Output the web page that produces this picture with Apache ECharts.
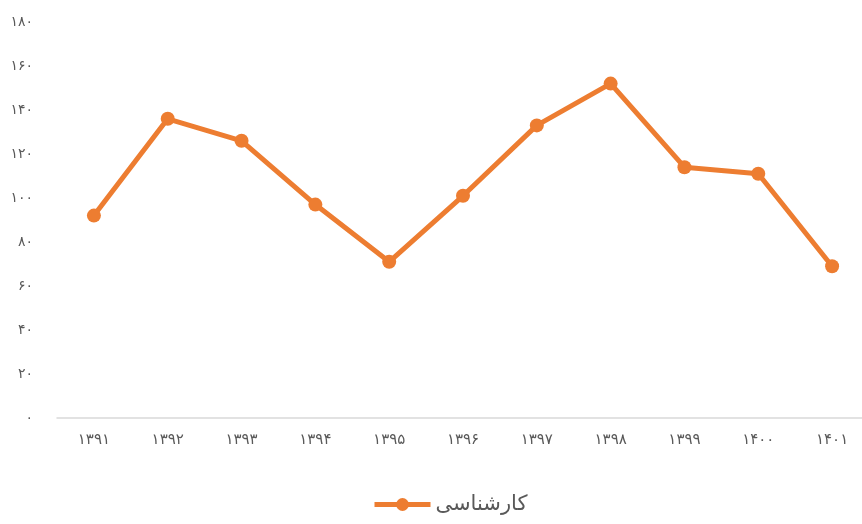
<!DOCTYPE html>
<html>
<head>
<meta charset="utf-8">
<script src="https://cdn.jsdelivr.net/npm/echarts@6/dist/echarts.min.js"></script>
<style>
  html, body { margin: 0; padding: 0; background: #fff; }
  #chart { width: 862px; height: 524px; }
</style>
</head>
<body>
<div id="chart"></div>
<script>
// سال‌ها
const years = ['۱۳۹۱', '۱۳۹۲', '۱۳۹۳', '۱۳۹۴', '۱۳۹۵', '۱۳۹۶', '۱۳۹۷', '۱۳۹۸', '۱۳۹۹', '۱۴۰۰', '۱۴۰۱'];
const karshenasi = [92, 136, 126, 97, 71, 101, 133, 152, 114, 111, 69];
const yTickLabels = ['۰', '۲۰', '۴۰', '۶۰', '۸۰', '۱۰۰', '۱۲۰', '۱۴۰', '۱۶۰', '۱۸۰'];

const chart = echarts.init(document.getElementById('chart'));
chart.setOption({
  backgroundColor: '#fff',
  textStyle: { fontFamily: 'DejaVu Sans' },
  grid: { left: 57, width: 812, top: 22, bottom: 106, outerBoundsMode: 'none' },
  legend: {
    bottom: 4,
    left: 367,
    itemWidth: 56,
    itemHeight: 16,
    itemGap: 8,
    lineStyle: { width: 5 },
    textStyle: { fontSize: 21, color: '#595959', fontFamily: 'DejaVu Sans' },
    data: ['کارشناسی']
  },
  xAxis: {
    type: 'category',
    data: years,
    boundaryGap: true,
    axisLine: { lineStyle: { color: '#d9d9d9', width: 1.5 } },
    axisTick: { show: false },
    axisLabel: { color: '#595959', fontSize: 15, margin: 15 }
  },
  yAxis: {
    type: 'value',
    min: 0,
    max: 180,
    interval: 20,
    axisLine: { show: false },
    axisTick: { show: false },
    splitLine: { show: false },
    axisLabel: {
      color: '#595959',
      fontSize: 14,
      margin: 24,
      formatter: v => yTickLabels[Math.round(v / 20)]
    }
  },
  series: [{
    name: 'کارشناسی',
    type: 'line',
    data: karshenasi,
    symbol: 'circle',
    symbolSize: 14,
    lineStyle: { color: '#ed7d31', width: 5 },
    itemStyle: { color: '#ed7d31' }
  }]
});
</script>
</body>
</html>
